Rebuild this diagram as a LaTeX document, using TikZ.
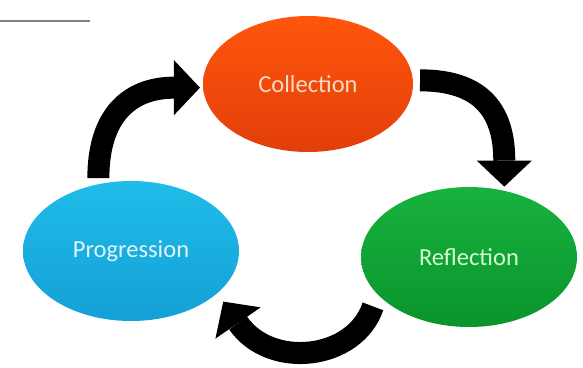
\documentclass[tikz,border=0pt]{standalone}
\usepackage{fontspec}
\setmainfont{Carlito}
\usetikzlibrary{shapes.geometric,arrows.meta}
\definecolor{collTop}{RGB}{255,86,12}
\definecolor{collBot}{RGB}{226,62,10}
\definecolor{collTxt}{RGB}{255,218,195}
\definecolor{progTop}{RGB}{32,188,232}
\definecolor{progBot}{RGB}{20,160,214}
\definecolor{progTxt}{RGB}{222,245,255}
\definecolor{reflTop}{RGB}{24,178,62}
\definecolor{reflBot}{RGB}{10,148,44}
\definecolor{reflTxt}{RGB}{212,250,212}
\definecolor{lineGray}{RGB}{128,128,128}
\tikzset{
  blob/.style={ellipse, inner sep=0pt, minimum width=216pt, minimum height=140pt, font=\fontsize{24.5}{26}\selectfont},
  cyclearrow/.style={line width=22pt, black, -{Triangle[width=55pt,length=26pt,line width=0pt]}}
}
\begin{document}
\begin{tikzpicture}[x=1pt,y=-1pt]
\useasboundingbox (0,0) rectangle (583,367);
\fill[white] (0,0) rectangle (583,367);
\draw[lineGray, line width=2.2pt] (0,21) coordinate (gl) -- (90,21) coordinate (gr);
\node[blob, minimum width=210pt, minimum height=136pt, top color=collTop, bottom color=collBot, text=collTxt] (coll) at (308,84) {Collection};
\node[blob, top color=progTop, bottom color=progBot, text=progTxt] (prog) at (131,251) {\raisebox{-3pt}{Progression}};
\node[blob, top color=reflTop, bottom color=reflBot, text=reflTxt] (refl) at (469,257) {\raisebox{-3pt}{Reflection}};
\draw[cyclearrow] ([yshift=6pt]prog.116) .. controls +(0,-63) and +(-70,0) .. ([xshift=-3pt]coll.182);
\draw[cyclearrow] ([xshift=7pt]coll.2) .. controls +(60,0) and +(0,-77) .. ([yshift=4pt]refl.62);
\draw[cyclearrow] ([shift={(-11pt,-6pt)}]refl.207) .. controls +(-18,54) and +(47,68) .. ([shift={(10pt,-5pt)}]prog.-29);
\end{tikzpicture}
\end{document}
